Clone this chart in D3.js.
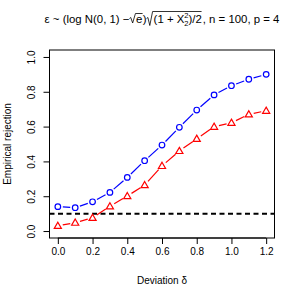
<!DOCTYPE html>
<html>
<head>
<meta charset="utf-8">
<script src="https://cdn.jsdelivr.net/npm/d3@7"></script>
<style>
  body { margin: 0; background: #fff; }
  svg { display: block; font-family: "Liberation Sans", Arial, sans-serif; }
</style>
</head>
<body>
<script>
// deviation values on the x axis
const deltas = [0, 0.1, 0.2, 0.3, 0.4, 0.5, 0.6, 0.7, 0.8, 0.9, 1.0, 1.1, 1.2];
// empirical rejection, blue circles
const rejBlue = [0.140, 0.134, 0.168, 0.222, 0.308, 0.404, 0.494, 0.596, 0.695, 0.782, 0.835, 0.872, 0.900];
// empirical rejection, red triangles
const rejRed = [0.030, 0.048, 0.076, 0.142, 0.201, 0.264, 0.374, 0.460, 0.530, 0.599, 0.622, 0.670, 0.691];
const level = 0.1;
const xTicks = [0, 0.2, 0.4, 0.6, 0.8, 1.0, 1.2];
const yTicks = [0, 0.2, 0.4, 0.6, 0.8, 1.0];

const width = 300, height = 300;
const box = {left: 49.5, right: 274.5, top: 50, bottom: 238};

const x = d3.scaleLinear().domain([-0.048, 1.248]).range([box.left, box.right]);
const y = d3.scaleLinear().domain([-0.04, 1.04]).range([box.bottom, box.top]);

const svg = d3.select('body').append('svg')
  .attr('width', width)
  .attr('height', height);

// plot box
svg.append('rect')
  .attr('x', box.left).attr('y', box.top)
  .attr('width', box.right - box.left).attr('height', box.bottom - box.top)
  .attr('fill', 'none').attr('stroke', '#000').attr('stroke-width', 1);

// x axis
const xAxis = d3.axisBottom(x).tickValues(xTicks).tickFormat(d3.format('.1f'))
  .tickSize(6).tickPadding(4);
const gx = svg.append('g')
  .attr('transform', `translate(0,${box.bottom})`)
  .call(xAxis);
gx.select('.domain').attr('d', `M${x(0)},0H${x(1.2)}`);
gx.selectAll('text').attr('font-size', 10).attr('fill', '#000')
  .attr('font-family', '"Liberation Sans", Arial, sans-serif');

// y axis
const yAxis = d3.axisLeft(y).tickValues(yTicks).tickFormat(d3.format('.1f'))
  .tickSize(6);
const gy = svg.append('g')
  .attr('transform', `translate(${box.left},0)`)
  .call(yAxis);
gy.select('.domain').attr('d', `M0,${y(0)}V${y(1)}`);
gy.selectAll('.tick text')
  .attr('font-size', 10).attr('fill', '#000')
  .attr('font-family', '"Liberation Sans", Arial, sans-serif')
  .attr('x', 0).attr('y', 0).attr('dy', null)
  .attr('text-anchor', 'middle')
  .attr('transform', 'translate(-14.5,0) rotate(-90)');

// axis titles
svg.append('text')
  .attr('x', (box.left + box.right) / 2).attr('y', 284)
  .attr('text-anchor', 'middle').attr('font-size', 10)
  .text('Deviation δ');
svg.append('text')
  .attr('transform', `translate(11,${(box.top + box.bottom) / 2}) rotate(-90)`)
  .attr('text-anchor', 'middle').attr('font-size', 10)
  .text('Empirical rejection');

// reference level
svg.append('line')
  .attr('x1', box.left).attr('x2', box.right)
  .attr('y1', y(level)).attr('y2', y(level))
  .attr('stroke', '#000').attr('stroke-width', 2)
  .attr('stroke-dasharray', '5,3.5');

// type="b" style lines: segments with gaps around the points
function drawSeries(vals, color, gap) {
  const pts = deltas.map((d, i) => [x(d), y(vals[i])]);
  const segs = d3.pairs(pts).map(([a, b]) => {
    const dx = b[0] - a[0], dy = b[1] - a[1];
    const len = Math.hypot(dx, dy);
    const ux = dx / len, uy = dy / len;
    return [[a[0] + ux * gap, a[1] + uy * gap], [b[0] - ux * gap, b[1] - uy * gap], len];
  }).filter(s => s[2] > 2 * gap);
  svg.append('g').selectAll('line')
    .data(segs).enter()
      .append('line')
        .attr('x1', d => d[0][0]).attr('y1', d => d[0][1])
        .attr('x2', d => d[1][0]).attr('y2', d => d[1][1])
        .attr('stroke', color).attr('stroke-width', 1.2);
  return pts;
}

const bluePts = drawSeries(rejBlue, '#0000ff', 5);
svg.append('g').selectAll('circle')
  .data(bluePts).enter()
    .append('circle')
      .attr('cx', d => d[0]).attr('cy', d => d[1])
      .attr('r', 2.8)
      .attr('fill', 'none').attr('stroke', '#0000ff').attr('stroke-width', 1.2);

const redPts = drawSeries(rejRed, '#ff0000', 5);
const tri = d3.symbol().type(d3.symbolTriangle).size(22);
svg.append('g').selectAll('path')
  .data(redPts).enter()
    .append('path')
      .attr('d', tri)
      .attr('transform', d => `translate(${d[0]},${d[1] + 0.5})`)
      .attr('fill', 'none').attr('stroke', '#ff0000').attr('stroke-width', 1.2);

// title (plotmath-like layout)
const title = svg.append('g');
const fs = 11.4, base = 22.5;
let cx = 0;
function txt(s, size = fs, dy = 0) {
  const t = title.append('text')
    .attr('x', cx).attr('y', base + dy)
    .attr('font-size', size)
    .text(s);
  const w = t.node().getComputedTextLength();
  cx += w;
  return w;
}
function radical(x0, w, top, bottom) {
  title.append('path')
    .attr('d', `M${x0},${base - 4} L${x0 + 1.3},${base - 5} L${x0 + 3.2},${bottom} L${x0 + 6},${top} H${x0 + 6.5 + w}`)
    .attr('fill', 'none').attr('stroke', '#000').attr('stroke-width', 0.8);
}

txt('ε ~ (log N(0, 1) − ');
let r0 = cx;
cx += 6.5;
const wIn = txt('e');
radical(r0, wIn + 0.3, base - 9, base + 0.5);
cx += 0.5;
txt(')');
r0 = cx;
cx += 7;
const start = cx;
txt('(1 + X');
const sx = cx;
txt('2', 7.5, -4.8);
cx = sx;
txt('2', 7.5, 3);
txt(')/2');
radical(r0, cx - start + 0.3, base - 11, base + 3);
cx += 1;
txt(', n = 100, p = 4');

const tw = cx;
title.attr('transform', `translate(${(box.left + box.right) / 2 - tw / 2},0)`);
</script>
</body>
</html>
